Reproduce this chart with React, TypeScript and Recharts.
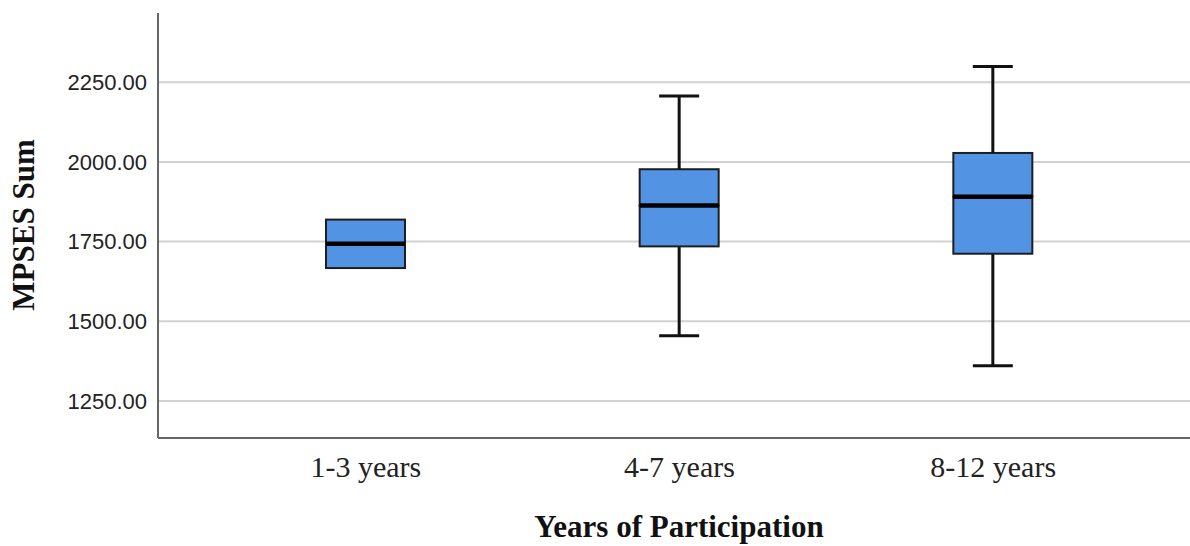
import React from 'react';
import { ComposedChart, Bar, XAxis, YAxis, CartesianGrid } from 'recharts';

// box plot summary per group
const categories = ['1-3 years', '4-7 years', '8-12 years'];
const minValues = [1667, 1455, 1361];
const q1Values = [1667, 1735, 1712];
const medianValues = [1743, 1863, 1891];
const q3Values = [1819, 1977, 2028];
const maxValues = [1819, 2207, 2299];
const yTicks = [1250, 1500, 1750, 2000, 2250];

const data = categories.map((name, i) => ({
  name,
  base: minValues[i],
  lowerWhisker: q1Values[i] - minValues[i],
  lowerBox: medianValues[i] - q1Values[i],
  upperBox: q3Values[i] - medianValues[i],
  upperWhisker: maxValues[i] - q3Values[i],
}));

const BOX_FILL = '#5393e3';
const INK = '#111';
const CAP = 20;

const Empty = () => <g />;

const LowerWhisker = (props: any) => {
  const { x, y, width, height } = props;
  if (!height || height < 0.5) return <g />;
  const cx = x + width / 2;
  return (
    <g>
      <line x1={cx} x2={cx} y1={y} y2={y + height} stroke={INK} strokeWidth={3} />
      <line x1={cx - CAP} x2={cx + CAP} y1={y + height} y2={y + height} stroke={INK} strokeWidth={3} />
    </g>
  );
};

const UpperWhisker = (props: any) => {
  const { x, y, width, height } = props;
  if (!height || height < 0.5) return <g />;
  const cx = x + width / 2;
  return (
    <g>
      <line x1={cx} x2={cx} y1={y} y2={y + height} stroke={INK} strokeWidth={3} />
      <line x1={cx - CAP} x2={cx + CAP} y1={y} y2={y} stroke={INK} strokeWidth={3} />
    </g>
  );
};

const LowerBox = (props: any) => {
  const { x, y, width, height } = props;
  return <rect x={x} y={y} width={width} height={height} fill={BOX_FILL} stroke="#1e1e1e" strokeWidth={2} />;
};

// upper half of the box, with the median drawn on its bottom edge
const UpperBox = (props: any) => {
  const { x, y, width, height } = props;
  return (
    <g>
      <rect x={x} y={y} width={width} height={height} fill={BOX_FILL} stroke="#1e1e1e" strokeWidth={2} />
      <line x1={x} x2={x + width} y1={y + height} y2={y + height} stroke="#000" strokeWidth={4.5} />
    </g>
  );
};

// only the labelled ticks get a grid line (no line along the top edge)
const gridRows = (props: any) => {
  const scale = props?.yAxis?.scale;
  if (scale && typeof scale === 'function') return yTicks.map((t) => scale(t));
  if (scale && typeof scale.map === 'function') return yTicks.map((t) => scale.map(t));
  return [];
};

const App: React.FC = () => {
  return (
    <div style={{ width: 1190, height: 546, background: '#fff' }}>
      <style>{'body{margin:0}'}</style>
      <ComposedChart
        width={1190}
        height={546}
        data={data}
        barSize={79}
        margin={{ top: 13, right: 0, bottom: 0, left: 0 }}
      >
        <CartesianGrid
          vertical={false}
          stroke="#d2d2d2"
          strokeWidth={2}
          horizontalCoordinatesGenerator={gridRows}
        />
        <XAxis
          dataKey="name"
          height={108}
          padding={{ left: 51, right: 40 }}
          interval={0}
          tickLine={false}
          tickSize={6}
          tickMargin={12}
          axisLine={{ stroke: '#666', strokeWidth: 2 }}
          tick={{ fontFamily: '"Liberation Serif", serif', fontSize: 30, fill: '#222' }}
          label={{
            content: () => (
              <text
                x={679}
                y={537}
                textAnchor="middle"
                fontFamily='"Liberation Serif", serif'
                fontWeight="bold"
                fontSize={31}
                fill="#111"
              >
                Years of Participation
              </text>
            ),
          }}
        />
        <YAxis
          width={158}
          domain={[1134, 2467]}
          allowDataOverflow
          ticks={yTicks}
          tickFormatter={(v: number) => v.toFixed(2)}
          tickLine={false}
          tickSize={6}
          tickMargin={5}
          axisLine={{ stroke: '#666', strokeWidth: 2 }}
          tick={{ fontFamily: '"Liberation Sans", sans-serif', fontSize: 22, fill: '#222' }}
          label={{
            content: () => (
              <text
                x={34}
                y={225}
                transform="rotate(-90 34 225)"
                textAnchor="middle"
                fontFamily='"Liberation Serif", serif'
                fontWeight="bold"
                fontSize={31}
                fill="#111"
              >
                MPSES Sum
              </text>
            ),
          }}
        />
        <Bar dataKey="base" stackId="box" fill="transparent" shape={Empty} isAnimationActive={false} />
        <Bar dataKey="lowerWhisker" stackId="box" shape={LowerWhisker} isAnimationActive={false} />
        <Bar dataKey="lowerBox" stackId="box" shape={LowerBox} isAnimationActive={false} />
        <Bar dataKey="upperBox" stackId="box" shape={UpperBox} isAnimationActive={false} />
        <Bar dataKey="upperWhisker" stackId="box" shape={UpperWhisker} isAnimationActive={false} />
      </ComposedChart>
    </div>
  );
};

export default App;
